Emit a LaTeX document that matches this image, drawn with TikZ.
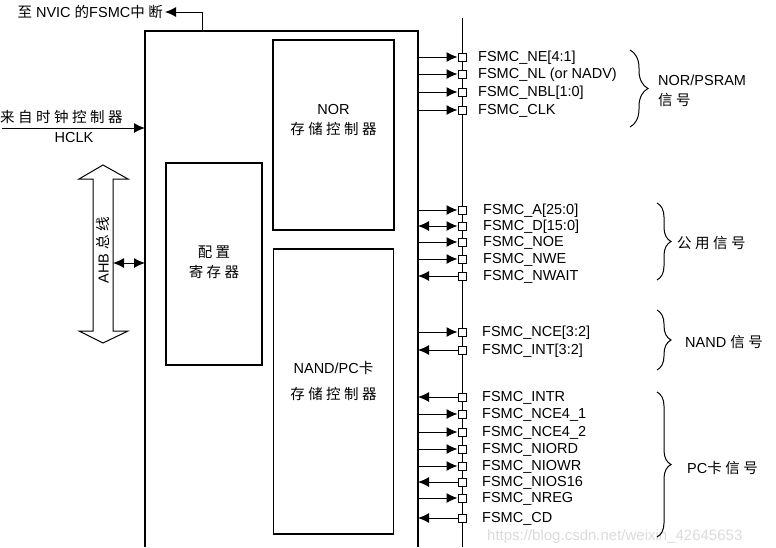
\documentclass[tikz,border=0pt]{standalone}
\usepackage{fontspec}
\setmainfont{Liberation Sans}
\newfontfamily\cjk[LetterSpace=24]{Noto Sans CJK SC}
\usepackage{tikz}
\usetikzlibrary{positioning}
\usetikzlibrary{arrows.meta,decorations.pathreplacing}
\newcommand{\zh}[1]{{\cjk #1}}
\tikzset{% looks of the FSMC block diagram
        blk/.style={draw, line width=1.2pt, inner sep=0pt},
        pad/.style={draw, fill=white, line width=1pt, minimum size=8pt, inner sep=0pt},
        txt/.style={font=\fontsize{14.5}{20}\selectfont, inner sep=0pt},
        sig/.style={txt, anchor=west},
        sigout/.style={line width=1pt, -{Latex[length=11pt,width=10pt]}},
        sigin/.style={line width=1pt, {Latex[length=11pt,width=10pt]}-},
        sigio/.style={line width=1pt, {Latex[length=11pt,width=10pt]}-{Latex[length=11pt,width=10pt]}},
        grp/.style={decorate, decoration={brace, amplitude=#1}, line width=1pt}
        }

\begin{document}
\begin{tikzpicture}[x=1pt, y=-1pt]
\useasboundingbox (0,0) rectangle (776,547);
\node[txt, font=\fontsize{15}{17}\selectfont, text=gray!28, anchor=west] (wm) at (487,537) {https://blog.csdn.net/weixin\_42645653};

% FSMC block (open at the bottom) and the pin line
\draw[line width=1.2pt] (145,547) -- (145,31) -- (418,31) -- (418,547);
\draw[line width=1pt] (462,18) -- (462,547);

% inner blocks
\node[blk, minimum width=121pt, minimum height=190pt] (nor) at (333.5,135) {};
\node[txt, align=center] (nortxt) at (333.5,120) {NOR\\\zh{存储控制器}};
\node[blk, minimum width=96pt, minimum height=202pt] (cfg) at (214,264) {};
\node[txt, align=center] (cfgtxt) at (214,262) {\zh{配置}\\\zh{寄存器}};
\node[blk, minimum width=120pt, minimum height=285pt] (nand) at (333.5,391.5) {};
\node[txt, align=center] (nandtxt) at (333.5,381) {NAND/PC\zh{卡}\\[6pt]\zh{存储控制器}};

% interrupt out
\coordinate (irqsrc) at (202,31);
\coordinate (irq) at (165,12);
\node[txt, left=2pt of irq] (nvic) {\zh{至} NVIC \zh{的}FSMC\zh{中断}};
\draw[sigout] (irqsrc) |- (irq);

% clock in
\coordinate (clkfree) at (2,128);
\coordinate (clkin) at (145,128);
\node[txt, anchor=west] (clksrc) at (0,117) {\zh{来自时钟控制器}};
\node[txt] (hclk) at (74,138) {HCLK};
\draw[sigout] (clkfree) -- (clkin);

% AHB bus
\draw[line width=1pt, fill=white] (103,165) -- (128,179) -- (113,179) -- (113,331) -- (128,331)
  -- (103,343) -- (79,331) -- (93,331) -- (93,179) -- (79,179) -- cycle;
\node[txt, rotate=90] (ahb) at (103,250) {AHB \zh{总线}};
\coordinate (busr) at (113,263);
\coordinate (ahbin) at (145,263);
\draw[sigio] (busr) -- (ahbin);

% pins
\foreach \y/\lx/\dir/\txt [count=\i] in {
  57/478/sigout/FSMC\_NE[4:1],
  74/478/sigout/FSMC\_NL (or NADV),
  92/478/sigout/FSMC\_NBL[1:0],
  110/478/sigout/FSMC\_CLK,
  210/483/sigout/FSMC\_A[25:0],
  226/483/sigio/FSMC\_D[15:0],
  242/483/sigout/FSMC\_NOE,
  259/483/sigout/FSMC\_NWE,
  276/483/sigin/FSMC\_NWAIT,
  332/482/sigout/FSMC\_NCE[3:2],
  350/482/sigin/FSMC\_INT[3:2],
  397/482/sigin/FSMC\_INTR,
  414/482/sigout/FSMC\_NCE4\_1,
  432/482/sigout/FSMC\_NCE4\_2,
  449/482/sigout/FSMC\_NIORD,
  466/482/sigout/FSMC\_NIOWR,
  482/482/sigin/FSMC\_NIOS16,
  498/482/sigout/FSMC\_NREG,
  518/482/sigin/FSMC\_CD}
{
  \coordinate (c\i) at (418,\y);
  \node[pad] (p\i) at (462,\y) {};
  \node[sig] (l\i) at (\lx,\y+1) {\txt};
  \draw[\dir] (c\i) -- (p\i);
}

% signal groups
\draw[grp=18] (630,50) -- (630,127);
\node[txt, anchor=west, align=left] (norgrp) at (658,91) {NOR/PSRAM\\\zh{信号}};
\draw[grp=14] (657,203) -- (657,280);
\node[txt, anchor=west] (comgrp) at (677,243) {\zh{公用信号}};
\draw[grp=14] (657,310) -- (657,370);
\node[txt, anchor=west] (nandgrp) at (685,342) {NAND \zh{信号}};
\draw[grp=14] (657,392) -- (657,537);
\node[txt, anchor=west] (pcgrp) at (687,468) {PC\zh{卡信号}};
\end{tikzpicture}
\end{document}
